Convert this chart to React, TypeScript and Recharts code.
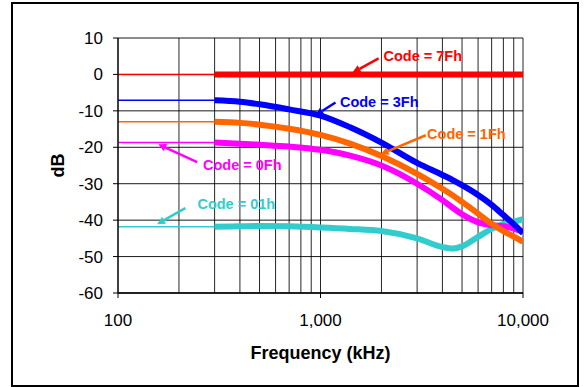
import React from 'react';
import { LineChart, Line, XAxis, YAxis, CartesianGrid, ReferenceLine, ReferenceDot } from 'recharts';

// Frequencies (kHz)
const freqs = [100, 300, 400, 500, 700, 1000, 1400, 2000, 3000, 4000, 4500, 5000, 6000, 7000, 8000, 9000, 10000];

// Measured responses (dB) from 300 kHz upward (index 1.. of freqs)
const code7F = [0, 0, 0, 0, 0, 0, 0, 0, 0, 0, 0, 0, 0, 0, 0, 0];
const code3F = [-7.1, -7.5, -8.2, -9.6, -11.3, -14.5, -18.7, -24.3, -27.6, -29.0, -30.4, -33.1, -35.8, -38.6, -41.1, -43.6];
const code1F = [-13.0, -13.3, -13.8, -14.9, -16.6, -19.0, -22.4, -27.3, -31.4, -33.2, -35.0, -38.2, -41.0, -43.0, -44.5, -45.9];
const code0F = [-18.7, -19.0, -19.3, -19.8, -20.7, -22.3, -25.0, -30.0, -34.5, -36.6, -38.4, -40.6, -41.4, -41.7, -42.3, -43.2];
const code01 = [-41.8, -41.7, -41.6, -41.7, -42.0, -42.4, -43.0, -45.0, -47.4, -47.8, -47.2, -44.6, -42.4, -41.0, -40.4, -39.7];

const seriesKeys = ['c01', 'c0F', 'c1F', 'c3F', 'c7F'];
const seriesValues = [code01, code0F, code1F, code3F, code7F];
const seriesColors = ['#33CCCC', '#FF00FF', '#FF6600', '#0000FF', '#FF0000'];

const xTicks = [100, 1000, 10000];
const xTickLabels = ['100', '1,000', '10,000'];
const yTicks = [-60, -50, -40, -30, -20, -10, 0, 10];
const minorGrid = [200, 300, 400, 500, 600, 700, 800, 900, 1000, 2000, 3000, 4000, 5000, 6000, 7000, 8000, 9000, 10000];

// Annotations: text position and arrow (from -> to) in data units (kHz, dB)
const annTexts = ['Code = 7Fh', 'Code = 3Fh', 'Code = 1Fh', 'Code = 0Fh', 'Code = 01h'];
const annColors = ['#FF0000', '#0000FF', '#FF6600', '#FF00FF', '#33CCCC'];
const annTextPos = [[3199, 5.2], [1950, -7.6], [5250, -16.2], [411, -24.9], [384, -35.6]];
const annArrowFrom = [[1936, 4.4], [1186, -7.7], [3311, -16.7], [246, -24.1], [215, -36.7]];
const annArrowTo = [[1439, 0.5], [944, -11.2], [1982, -21.9], [158, -19.2], [156, -41.1]];

const rows = freqs.map((f, i) => {
  const row: Record<string, number | null> = { f };
  seriesKeys.forEach((k, s) => {
    const vals = seriesValues[s];
    row['thin_' + k] = i <= 1 ? vals[0] : null;
    row['thick_' + k] = i >= 1 ? vals[i - 1] : null;
  });
  return row;
});

const FONT = '"Liberation Sans", Arial, sans-serif';

const Arrow = (props: any) => {
  const { x1, y1, x2, y2, stroke } = props;
  const dx = x2 - x1;
  const dy = y2 - y1;
  const len = Math.sqrt(dx * dx + dy * dy) || 1;
  const ux = dx / len;
  const uy = dy / len;
  const hl = 8;
  const hw = 4;
  const bx = x2 - ux * hl;
  const by = y2 - uy * hl;
  const pts = `${x2},${y2} ${bx - uy * hw},${by + ux * hw} ${bx + uy * hw},${by - ux * hw}`;
  return (
    <g>
      <line x1={x1} y1={y1} x2={bx} y2={by} stroke={stroke} strokeWidth={2.5} />
      <polygon points={pts} fill={stroke} />
    </g>
  );
};

export default function App() {
  return (
    <div style={{ position: 'absolute', left: 0, top: 0, width: 586, height: 387, background: '#fff', fontFamily: FONT }}>
      <LineChart width={586} height={387} data={rows} margin={{ top: 38, right: 63, bottom: 0, left: 0 }}>
        <CartesianGrid vertical={false} stroke="#000" strokeWidth={1} strokeOpacity={0.9} />
        {minorGrid.map((v) => (
          <ReferenceLine key={'g' + v} x={v} stroke="#000" strokeWidth={1} strokeOpacity={0.85} />
        ))}
        <XAxis
          dataKey="f"
          type="number"
          scale="log"
          domain={[100, 10000]}
          ticks={xTicks}
          allowDataOverflow
          tickFormatter={(v: number) => xTickLabels[xTicks.indexOf(v)] ?? String(v)}
          height={94}
          tickSize={5}
          tickMargin={16}
          tick={{ fill: '#000', fontSize: 17, fontFamily: FONT }}
          tickLine={{ stroke: '#000' }}
          axisLine={{ stroke: '#000', strokeWidth: 1.5 }}
          label={{ value: 'Frequency (kHz)', position: 'insideBottom', offset: 28, fill: '#000', fontSize: 18, fontWeight: 'bold', fontFamily: FONT }}
        />
        <YAxis
          type="number"
          domain={[-60, 10]}
          ticks={yTicks}
          width={118}
          tickSize={5}
          tickMargin={10}
          tick={{ fill: '#000', fontSize: 17, fontFamily: FONT }}
          tickLine={{ stroke: '#000' }}
          axisLine={{ stroke: '#000', strokeWidth: 1.5 }}
          label={{ value: 'dB', angle: -90, position: 'center', dx: -1, fill: '#000', fontSize: 18, fontWeight: 'bold', fontFamily: FONT }}
        />
        {seriesKeys.map((k, s) => (
          <Line key={'thin' + k} type="linear" dataKey={'thin_' + k} stroke={seriesColors[s]} strokeWidth={1.6} dot={false} isAnimationActive={false} connectNulls={false} />
        ))}
        {seriesKeys.map((k, s) => (
          <Line key={'thick' + k} type="monotone" dataKey={'thick_' + k} stroke={seriesColors[s]} strokeWidth={6} dot={false} isAnimationActive={false} connectNulls={false} />
        ))}
        {annTexts.map((t, i) => (
          <ReferenceLine
            key={'a' + i}
            segment={[{ x: annArrowFrom[i][0], y: annArrowFrom[i][1] }, { x: annArrowTo[i][0], y: annArrowTo[i][1] }]}
            stroke={annColors[i]}
            shape={(p: any) => <Arrow {...p} stroke={annColors[i]} />}
          />
        ))}
        {annTexts.map((t, i) => (
          <ReferenceDot
            key={'t' + i}
            x={annTextPos[i][0]}
            y={annTextPos[i][1]}
            r={0}
            fill="none"
            stroke="none"
            label={{ value: t, position: 'center', fill: annColors[i], fontSize: 14.5, fontWeight: 'bold', fontFamily: FONT }}
          />
        ))}
      </LineChart>
      <div style={{ position: 'absolute', left: 11, top: 2, width: 568, height: 385, boxSizing: 'border-box', border: '2px solid #000', pointerEvents: 'none' }} />
    </div>
  );
}
